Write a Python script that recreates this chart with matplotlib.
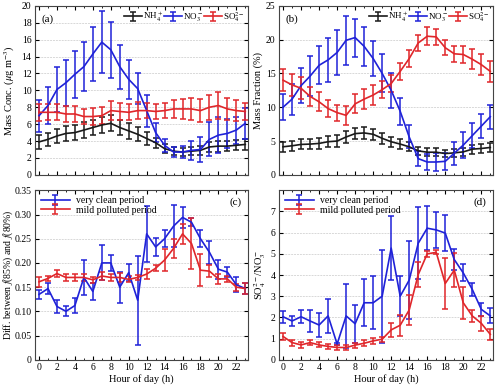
import numpy as np
import matplotlib
matplotlib.use('agg')
from matplotlib import pyplot as plt

plt.rcParams['font.family'] = 'Liberation Serif'
plt.rcParams['mathtext.fontset'] = 'stix'
plt.rcParams['font.size'] = 7.5

hours = np.arange(24)

# (a) mass concentration, ug m-3
nh4_conc = [3.9, 4.2, 4.6, 4.9, 5.0, 5.3, 5.6, 5.9, 6.1, 5.6, 5.2, 4.8, 4.3, 3.8, 3.1, 2.8, 2.7, 2.8, 2.9, 3.3, 3.4, 3.4, 3.5, 3.6]
nh4_conc_err = [0.8, 0.8, 0.85, 0.85, 0.85, 0.9, 0.9, 0.9, 0.95, 0.9, 0.9, 0.85, 0.8, 0.6, 0.5, 0.45, 0.45, 0.5, 0.55, 0.6, 0.65, 0.6, 0.6, 0.65]
no3_conc = [7.0, 8.2, 10.1, 10.9, 11.9, 12.8, 14.3, 15.7, 14.8, 12.8, 11.3, 10.2, 7.6, 5.0, 3.5, 2.7, 2.7, 2.9, 3.0, 4.2, 4.7, 4.9, 5.3, 6.1]
no3_conc_err = [1.9, 2.2, 2.7, 2.7, 2.8, 2.9, 3.2, 3.7, 3.3, 2.6, 2.3, 1.8, 1.9, 1.1, 0.8, 0.6, 0.7, 1.1, 1.5, 2.0, 2.1, 1.7, 1.6, 1.8]
so4_conc = [7.4, 7.4, 7.4, 7.2, 7.2, 6.9, 6.9, 7.0, 7.6, 7.5, 7.4, 7.6, 7.6, 7.5, 7.6, 7.8, 7.8, 7.8, 7.6, 8.0, 8.2, 7.8, 7.6, 7.5]
so4_conc_err = [1.0, 0.95, 0.95, 0.9, 0.9, 0.9, 0.95, 1.0, 1.1, 1.0, 0.95, 1.0, 0.9, 0.9, 0.9, 1.1, 1.2, 1.3, 1.4, 1.5, 1.6, 1.3, 1.2, 1.0]

# (b) mass fraction, %
nh4_frac = [4.15, 4.3, 4.5, 4.55, 4.65, 4.9, 5.0, 5.6, 6.1, 6.2, 6.0, 5.4, 4.9, 4.55, 4.15, 3.55, 3.35, 3.35, 3.15, 3.25, 3.4, 3.8, 3.9, 4.05]
nh4_frac_err = [0.7, 0.75, 0.75, 0.75, 0.8, 0.8, 0.85, 0.85, 0.85, 0.85, 0.8, 0.8, 0.75, 0.7, 0.65, 0.6, 0.55, 0.55, 0.5, 0.55, 0.6, 0.65, 0.7, 0.7]
no3_frac = [10.0, 11.2, 13.2, 14.6, 16.2, 17.0, 18.1, 19.9, 20.3, 19.0, 17.2, 15.0, 12.5, 9.4, 5.6, 2.4, 1.9, 1.9, 2.0, 3.2, 4.4, 5.8, 7.2, 8.6]
no3_frac_err = [1.9, 2.3, 2.6, 3.0, 2.8, 3.3, 3.3, 3.6, 2.8, 2.9, 2.6, 2.8, 2.6, 2.0, 1.7, 1.1, 1.2, 1.4, 1.3, 1.7, 1.9, 1.8, 1.8, 1.8]
so4_frac = [14.0, 13.3, 12.8, 11.6, 10.8, 9.8, 9.2, 8.8, 10.5, 11.2, 11.8, 12.6, 13.5, 15.3, 17.2, 19.5, 20.5, 20.4, 18.8, 17.9, 17.8, 17.1, 16.3, 15.3]
so4_frac_err = [1.6, 1.6, 1.6, 1.4, 1.4, 1.3, 1.2, 1.4, 1.4, 1.5, 1.5, 1.3, 1.3, 1.3, 1.3, 1.2, 1.3, 1.2, 1.1, 1.2, 1.3, 1.5, 1.6, 1.6]

# (c) difference between f(85%) and f(80%)
clean_diff = [0.135, 0.147, 0.110, 0.100, 0.112, 0.170, 0.141, 0.200, 0.200, 0.150, 0.180, 0.123, 0.260, 0.233, 0.250, 0.276, 0.294, 0.284, 0.250, 0.222, 0.187, 0.181, 0.155, 0.147]
clean_diff_err = [0.010, 0.012, 0.013, 0.010, 0.015, 0.037, 0.017, 0.036, 0.016, 0.032, 0.018, 0.092, 0.058, 0.019, 0.017, 0.043, 0.022, 0.008, 0.018, 0.024, 0.020, 0.011, 0.015, 0.012]
polluted_diff = [0.161, 0.168, 0.178, 0.170, 0.170, 0.170, 0.165, 0.173, 0.170, 0.170, 0.166, 0.170, 0.177, 0.189, 0.206, 0.230, 0.260, 0.240, 0.185, 0.183, 0.167, 0.167, 0.150, 0.147]
polluted_diff_err = [0.010, 0.005, 0.007, 0.008, 0.008, 0.008, 0.006, 0.008, 0.008, 0.010, 0.006, 0.006, 0.010, 0.006, 0.022, 0.020, 0.020, 0.053, 0.033, 0.012, 0.010, 0.007, 0.007, 0.012]

# (d) SO4/NO3 ratio
clean_ratio = [2.03, 1.83, 2.03, 1.83, 1.64, 2.07, 0.74, 2.07, 1.70, 2.69, 2.69, 3.0, 5.27, 3.0, 3.76, 5.5, 6.21, 6.13, 5.98, 4.73, 4.1, 3.32, 2.38, 2.07]
clean_ratio_err = [0.28, 0.25, 0.3, 0.5, 0.55, 0.8, 0.05, 1.5, 0.9, 1.1, 1.25, 2.2, 1.5, 0.95, 1.85, 1.7, 1.05, 0.85, 0.85, 0.5, 0.4, 0.3, 0.3, 0.35]
polluted_ratio = [1.1, 0.81, 0.7, 0.81, 0.7, 0.63, 0.58, 0.58, 0.69, 0.78, 0.89, 0.97, 1.41, 1.63, 2.35, 4.02, 5.0, 5.07, 3.6, 4.23, 2.69, 2.07, 1.72, 1.2]
polluted_ratio_err = [0.18, 0.14, 0.13, 0.12, 0.12, 0.1, 0.1, 0.1, 0.12, 0.14, 0.15, 0.12, 0.33, 0.5, 0.7, 0.6, 0.15, 0.1, 1.2, 0.8, 0.75, 0.28, 0.35, 0.25]

BLACK = '#1a1a1a'
BLUE = '#1f22d8'
RED = '#e0262a'


def eb(ax, y, err, color, label):
    ax.errorbar(hours, y, yerr=err, color=color, lw=1.2, elinewidth=1.1,
                capsize=2, capthick=1.1, label=label)


def style(ax, ymax, ystep, bottom_labels):
    ax.set_xlim(-0.45, 23.3)
    ax.set_ylim(0, ymax)
    ax.set_xticks(np.arange(0, 23, 2))
    ax.set_xticks(np.arange(1, 24, 2), minor=True)
    ax.set_yticks(np.arange(0, ymax + 1e-9, ystep))
    ax.grid(axis='y', color='#d8d8d8', lw=0.7, ls=(0, (2, 1)))
    ax.set_axisbelow(True)
    ax.tick_params(which='both', direction='in', top=True, right=True, labelsize=7)
    ax.tick_params(which='major', length=3, pad=2.5)
    ax.tick_params(which='minor', length=1.5)
    for s in ax.spines.values():
        s.set_color('#444444')
    if bottom_labels:
        ax.set_xlabel('Hour of day (h)', fontsize=7.5, labelpad=1)
    else:
        ax.tick_params(labelbottom=False)


fig = plt.figure(figsize=(5, 3.86), dpi=100)
ax_a = fig.add_axes([0.07, 0.547, 0.426, 0.438])
ax_b = fig.add_axes([0.558, 0.547, 0.428, 0.438])
ax_c = fig.add_axes([0.07, 0.068, 0.426, 0.439])
ax_d = fig.add_axes([0.558, 0.068, 0.428, 0.439])

# (a)
eb(ax_a, nh4_conc, nh4_conc_err, BLACK, 'NH$_4^+$')
eb(ax_a, no3_conc, no3_conc_err, BLUE, 'NO$_3^-$')
eb(ax_a, so4_conc, so4_conc_err, RED, 'SO$_4^{2-}$')
style(ax_a, 20, 2, False)
ax_a.set_yticklabels([str(int(v)) for v in np.arange(0, 21, 2)])
ax_a.set_ylabel('Mass Conc. ($\\mu$g m$^{-3}$)', fontsize=7.5)
ax_a.yaxis.set_label_coords(-0.085, 0.5)
ax_a.text(0.03, 0.95, '(a)', transform=ax_a.transAxes, ha='left', va='top', fontsize=8)
ax_a.legend(loc='upper right', ncol=3, frameon=False, fontsize=6.5, handlelength=2,
            columnspacing=0.1, handletextpad=0.1, borderaxespad=0.2, borderpad=0.2)

# (b)
eb(ax_b, nh4_frac, nh4_frac_err, BLACK, 'NH$_4^+$')
eb(ax_b, no3_frac, no3_frac_err, BLUE, 'NO$_3^-$')
eb(ax_b, so4_frac, so4_frac_err, RED, 'SO$_4^{2-}$')
style(ax_b, 25, 5, False)
ax_b.set_ylabel('Mass Fraction (%)', fontsize=7.5, labelpad=2)
ax_b.text(0.03, 0.95, '(b)', transform=ax_b.transAxes, ha='left', va='top', fontsize=8)
ax_b.legend(loc='upper right', ncol=3, frameon=False, fontsize=6.5, handlelength=2,
            columnspacing=0.1, handletextpad=0.1, borderaxespad=0.2, borderpad=0.2)

# (c)
eb(ax_c, clean_diff, clean_diff_err, BLUE, 'very clean period')
eb(ax_c, polluted_diff, polluted_diff_err, RED, 'mild polluted period')
style(ax_c, 0.35, 0.05, True)
ax_c.set_yticklabels(['0'] + ['%.2f' % v for v in np.arange(0.05, 0.351, 0.05)])
ax_c.set_ylabel('Diff. between $\\mathit{f}$(85%) and $\\mathit{f}$(80%)', fontsize=7)
ax_c.yaxis.set_label_coords(-0.095, 0.5)
ax_c.text(0.97, 0.96, '(c)', transform=ax_c.transAxes, ha='right', va='top', fontsize=8)
ax_c.legend(loc='upper left', frameon=False, fontsize=7, handlelength=3,
            handletextpad=0.6, labelspacing=0.05, borderaxespad=0.5, borderpad=0.1)

# (d)
eb(ax_d, clean_ratio, clean_ratio_err, BLUE, 'very clean period')
eb(ax_d, polluted_ratio, polluted_ratio_err, RED, 'mild polluted period')
style(ax_d, 8, 1, True)
ax_d.set_yticks(np.arange(0, 8, 1))
ax_d.set_ylabel('SO$_4^{2-}$/NO$_3^-$', fontsize=7.5, labelpad=2)
ax_d.text(0.97, 0.96, '(d)', transform=ax_d.transAxes, ha='right', va='top', fontsize=8)
ax_d.legend(loc='upper left', frameon=False, fontsize=7, handlelength=3,
            handletextpad=0.6, labelspacing=0.05, borderaxespad=0.5, borderpad=0.1)

fig.savefig('out.png', dpi=100)
